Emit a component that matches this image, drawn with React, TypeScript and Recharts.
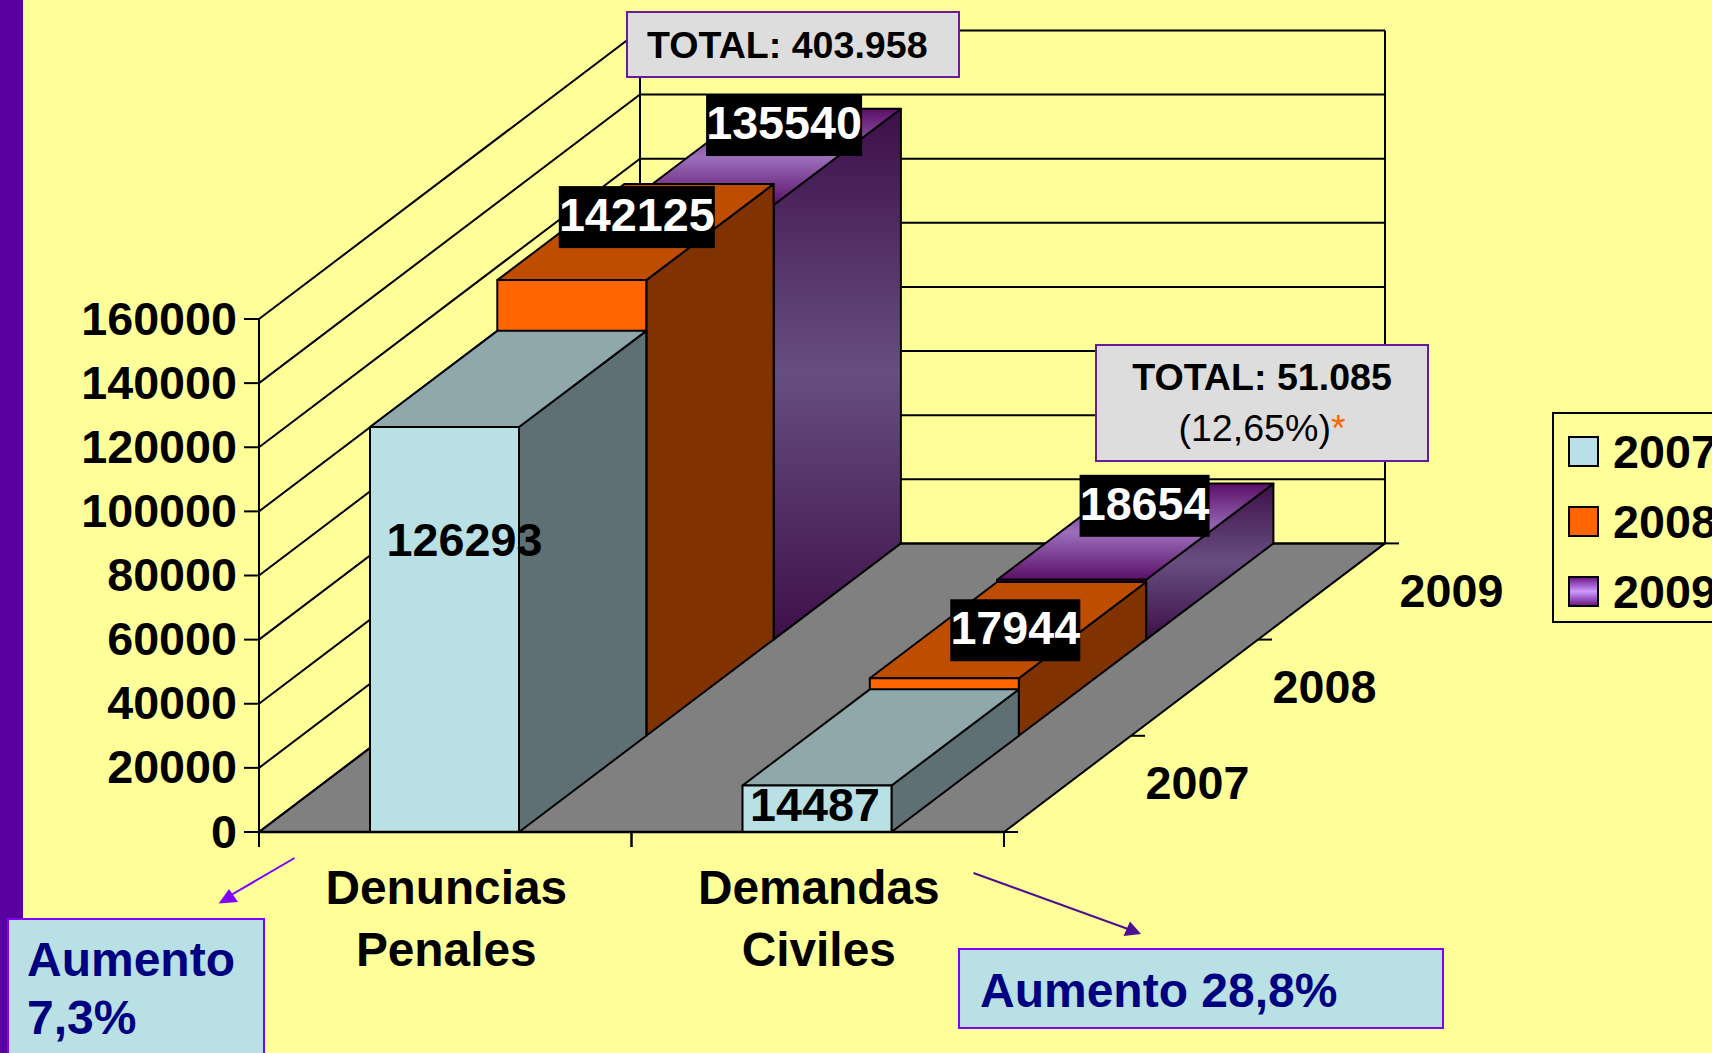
import { Bar, BarChart, CartesianGrid, LabelList, Legend, XAxis, YAxis } from "recharts";

const categories = ["Denuncias Penales", "Demandas Civiles"];
const years = ["2007", "2008", "2009"];
const values2007 = [126293, 14487];
const values2008 = [142125, 17944];
const values2009 = [135540, 18654];
const yTicks = [0, 20000, 40000, 60000, 80000, 100000, 120000, 140000, 160000];

const rows = categories.map((name, i) => ({
    name,
    y2007: values2007[i],
    y2008: values2008[i],
    y2009: values2009[i],
}));

// chart frame
const W = 1712;
const H = 1053;
const PLOT_LEFT = 259;
const PLOT_RIGHT = 1004;
const PLOT_TOP = 319;
const PLOT_BOTTOM = 832;
const BAND = (PLOT_RIGHT - PLOT_LEFT) / categories.length;

// fake perspective: how far one row moves back
const STEP_X = 127;
const STEP_Y = 96.2;
const BOX_STEP_X = 127.3;
const BOX_SHIFT = -1;
const ROWS = years.length;

const BAR_W = 149;
const LINE = "#000";
const LINE_W = 2;
const FONT = "'Liberation Sans', Arial, sans-serif";

const faces: Record<string, { front: string; top: string; side: string }> = {
    "2007": { front: "#B9E0E4", top: "#8FA8AB", side: "#5E7073" },
    "2008": { front: "#FF6600", top: "#BF4D00", side: "#803300" },
    "2009": { front: "url(#front2009)", top: "url(#top2009)", side: "url(#side2009)" },
};

// label spot relative to the top middle of the front face, per category
const labelNudge: Record<string, [number, number][]> = {
    "2007": [[20, 112], [-2, 19]],
    "2008": [[65, -63], [71, -48]],
    "2009": [[85, -80], [73, -74]],
};

function box3d(year: string, row: number) {
    return function Box(props: any) {
        const { x, y, width, height } = props;
        const f = faces[year];
        const fx = x + BOX_SHIFT + row * BOX_STEP_X;
        const fy = y - row * STEP_Y;
        const pts = (a: number[][]) => a.map((p) => p.join(",")).join(" ");
        return (
            <g stroke={LINE} strokeWidth={LINE_W} strokeLinejoin="round">
                <polygon
                    fill={f.side}
                    points={pts([
                        [fx + width, fy],
                        [fx + width + BOX_STEP_X, fy - STEP_Y],
                        [fx + width + BOX_STEP_X, fy + height - STEP_Y],
                        [fx + width, fy + height],
                    ])}
                />
                <polygon
                    fill={f.top}
                    points={pts([
                        [fx, fy],
                        [fx + width, fy],
                        [fx + width + BOX_STEP_X, fy - STEP_Y],
                        [fx + BOX_STEP_X, fy - STEP_Y],
                    ])}
                />
                <rect x={fx} y={fy} width={width} height={height} fill={f.front} />
            </g>
        );
    };
}

function valueLabel(year: string, row: number) {
    return function ValueLabel(props: any) {
        const box = props.viewBox ?? props;
        const [nx, ny] = labelNudge[year][props.index];
        const cx = box.x + box.width / 2 + BOX_SHIFT + row * BOX_STEP_X + nx;
        const cy = box.y - row * STEP_Y + ny;
        const boxed = year !== "2007";
        const boxW = String(props.value).length * 26;
        return (
            <g>
                {boxed && <rect x={cx - boxW / 2} y={cy - 31} width={boxW} height={62} fill="#000" />}
                <text
                    x={cx}
                    y={cy + (boxed ? 14 : 16.5)}
                    textAnchor="middle"
                    fontFamily={FONT}
                    fontWeight={700}
                    fontSize={46.7}
                    fill={boxed ? "#fff" : "#000"}
                >
                    {props.value}
                </text>
            </g>
        );
    };
}

// side wall + back wall for every y tick; the floor comes with the zero line
function wallLine(props: any) {
    const y = props.y1;
    const depthX = STEP_X * ROWS;
    const depthY = STEP_Y * ROWS;
    const isZero = Math.abs(y - PLOT_BOTTOM) < 1;
    return (
        <g key={`wall-${y}`}>
            {isZero && (
                <g>
                    <polygon
                        fill="#808080"
                        stroke={LINE}
                        strokeWidth={LINE_W}
                        points={`${PLOT_LEFT},${y} ${PLOT_RIGHT},${y} ${PLOT_RIGHT + depthX},${y - depthY} ${PLOT_LEFT + depthX},${y - depthY}`}
                    />
                    <line
                        x1={PLOT_LEFT + depthX}
                        x2={PLOT_LEFT + depthX}
                        y1={y - depthY}
                        y2={PLOT_TOP - depthY}
                        stroke={LINE}
                        strokeWidth={LINE_W}
                    />
                    <line
                        x1={PLOT_RIGHT + depthX}
                        x2={PLOT_RIGHT + depthX}
                        y1={y - depthY}
                        y2={PLOT_TOP - depthY}
                        stroke={LINE}
                        strokeWidth={LINE_W}
                    />
                    {[0, 1, 2, 3].map((k) => (
                        <line
                            key={k}
                            x1={PLOT_RIGHT + k * STEP_X}
                            x2={PLOT_RIGHT + k * STEP_X + 14}
                            y1={y - k * STEP_Y}
                            y2={y - k * STEP_Y}
                            stroke={LINE}
                            strokeWidth={LINE_W}
                        />
                    ))}
                    {years.map((year, k) => (
                        <text
                            key={year}
                            x={PLOT_RIGHT + (k + 0.5) * STEP_X + 130}
                            y={y - (k + 0.5) * STEP_Y + 15}
                            textAnchor="middle"
                            fontFamily={FONT}
                            fontWeight={700}
                            fontSize={46.7}
                            fill="#000"
                        >
                            {year}
                        </text>
                    ))}
                </g>
            )}
            <polyline
                fill="none"
                stroke={LINE}
                strokeWidth={LINE_W}
                points={`${PLOT_LEFT},${y} ${PLOT_LEFT + depthX},${y - depthY} ${PLOT_RIGHT + depthX},${y - depthY}`}
            />
        </g>
    );
}

function CategoryTick(props: any) {
    const { x, payload } = props;
    const words = String(payload.value).split(" ");
    return (
        <g>
            <line x1={x - BAND / 2} x2={x - BAND / 2} y1={PLOT_BOTTOM} y2={PLOT_BOTTOM + 15} stroke={LINE} strokeWidth={LINE_W} />
            <line x1={x + BAND / 2} x2={x + BAND / 2} y1={PLOT_BOTTOM} y2={PLOT_BOTTOM + 15} stroke={LINE} strokeWidth={LINE_W} />
            {words.map((word, i) => (
                <text
                    key={word}
                    x={x + 1}
                    y={904 + i * 62}
                    textAnchor="middle"
                    fontFamily={FONT}
                    fontWeight={700}
                    fontSize={47.8}
                    fill="#000"
                >
                    {word}
                </text>
            ))}
        </g>
    );
}

function LegendBox(props: any) {
    const items = [...(props.payload ?? [])].sort((a, b) => String(a.value).localeCompare(String(b.value)));
    return (
        <div style={{ position: "relative", width: 200, height: 211, border: "2px solid #000", boxSizing: "border-box" }}>
            {items.map((item, i) => (
                <div key={item.value}>
                    <div
                        style={{
                            position: "absolute",
                            left: 14,
                            top: 22 + i * 70,
                            width: 31,
                            height: 31,
                            boxSizing: "border-box",
                            border: "2px solid #000",
                            background:
                                item.value === "2009"
                                    ? "linear-gradient(#701A8A, #CC99FF 50%, #701A8A)"
                                    : faces[item.value].front,
                        }}
                    />
                    <div
                        style={{
                            position: "absolute",
                            left: 59,
                            top: 12 + i * 70,
                            fontFamily: FONT,
                            fontWeight: 700,
                            fontSize: 46.7,
                            lineHeight: "53px",
                            color: "#000",
                        }}
                    >
                        {item.value}
                    </div>
                </div>
            ))}
        </div>
    );
}

function note(style: React.CSSProperties): React.CSSProperties {
    return { position: "absolute", boxSizing: "border-box", fontFamily: FONT, ...style };
}

export default function App() {
    return (
        <div
            style={{
                position: "absolute",
                left: 0,
                top: 0,
                width: W,
                height: H,
                overflow: "hidden",
                background: "#FFFF99",
            }}
        >
            <div style={{ position: "absolute", left: 0, top: 0, width: 23, height: H, background: "#5B00A0" }} />

            <div style={{ position: "absolute", left: 0, top: 0 }}>
                <BarChart
                    width={W}
                    height={H}
                    data={rows}
                    margin={{ top: PLOT_TOP, right: W - PLOT_RIGHT, bottom: 0, left: 0 }}
                    barSize={BAR_W}
                    barGap={-BAR_W}
                >
                    <defs>
                        <linearGradient id="front2009" x1="0" y1="0" x2="0" y2="1">
                            <stop offset="0%" stopColor="#701A8A" />
                            <stop offset="50%" stopColor="#CC99FF" />
                            <stop offset="100%" stopColor="#701A8A" />
                        </linearGradient>
                        <linearGradient id="top2009" x1="0" y1="0" x2="0" y2="1">
                            <stop offset="0%" stopColor="#5B1068" />
                            <stop offset="50%" stopColor="#9C70BC" />
                            <stop offset="100%" stopColor="#5B1068" />
                        </linearGradient>
                        <linearGradient id="side2009" x1="0" y1="0" x2="0" y2="1">
                            <stop offset="0%" stopColor="#3E0F4A" />
                            <stop offset="50%" stopColor="#674E80" />
                            <stop offset="100%" stopColor="#3E0F4A" />
                        </linearGradient>
                    </defs>
                    <CartesianGrid vertical={false} horizontal={wallLine} />
                    <XAxis
                        dataKey="name"
                        height={H - PLOT_BOTTOM}
                        interval={0}
                        tickLine={false}
                        tick={CategoryTick}
                        axisLine={{ stroke: LINE, strokeWidth: 2.5 }}
                    />
                    <YAxis
                        width={PLOT_LEFT}
                        domain={[0, 160000]}
                        ticks={yTicks}
                        interval={0}
                        tickSize={15}
                        tickMargin={7}
                        tickLine={{ stroke: LINE, strokeWidth: LINE_W }}
                        axisLine={{ stroke: LINE, strokeWidth: LINE_W }}
                        tick={{ fill: "#000", fontSize: 46.7, fontWeight: 700, fontFamily: FONT, dy: -1 }}
                    />
                    <Bar dataKey="y2009" name="2009" fill="#CC99FF" shape={box3d("2009", 2)} isAnimationActive={false}>
                        <LabelList dataKey="y2009" content={valueLabel("2009", 2)} />
                    </Bar>
                    <Bar dataKey="y2008" name="2008" fill="#FF6600" shape={box3d("2008", 1)} isAnimationActive={false}>
                        <LabelList dataKey="y2008" content={valueLabel("2008", 1)} />
                    </Bar>
                    <Bar dataKey="y2007" name="2007" fill="#B9E0E4" shape={box3d("2007", 0)} isAnimationActive={false}>
                        <LabelList dataKey="y2007" content={valueLabel("2007", 0)} />
                    </Bar>
                    <Legend
                        layout="horizontal"
                        align="center"
                        verticalAlign="middle"
                        content={LegendBox}
                        wrapperStyle={{ left: 1552, top: 412, width: 200, height: 211, bottom: "auto", right: "auto" }}
                    />
                </BarChart>
            </div>

            {/* arrows */}
            <svg width={W} height={H} style={{ position: "absolute", left: 0, top: 0, pointerEvents: "none" }}>
                <line x1={294.6} y1={858} x2={226} y2={898} stroke="#8000FF" strokeWidth={2} />
                <polygon points="218.7,903.5 229,889 238,902" fill="#8000FF" />
                <line x1={973.5} y1={873} x2={1128} y2={929} stroke="#4F0F91" strokeWidth={2} />
                <polygon points="1141,934 1123.5,936 1130,921.5" fill="#4F0F91" />
            </svg>

            {/* callouts */}
            <div
                style={note({
                    left: 626,
                    top: 11,
                    width: 334,
                    height: 67,
                    background: "#DDDDDD",
                    border: "2.5px solid #6A1B9A",
                    fontSize: 37.6,
                    fontWeight: 700,
                    color: "#000",
                    lineHeight: "64px",
                    paddingLeft: 19,
                    whiteSpace: "nowrap",
                })}
            >
                TOTAL: 403.958
            </div>
            <div
                style={note({
                    left: 1095,
                    top: 344,
                    width: 334,
                    height: 118,
                    background: "#DDDDDD",
                    border: "2.5px solid #6A1B9A",
                    color: "#000",
                    textAlign: "center",
                    fontSize: 37.6,
                    lineHeight: "51px",
                    paddingTop: 6,
                })}
            >
                <div style={{ fontWeight: 700 }}>TOTAL: 51.085</div>
                <div>
                    (12,65%)<span style={{ color: "#FF6600" }}>*</span>
                </div>
            </div>
            <div
                style={note({
                    left: 7,
                    top: 918,
                    width: 258,
                    height: 150,
                    background: "#B9E0E4",
                    border: "2.5px solid #8000FF",
                    color: "#000080",
                    fontSize: 48,
                    fontWeight: 700,
                    lineHeight: "58px",
                    padding: "11px 0 0 18px",
                })}
            >
                Aumento
                <br />
                7,3%
            </div>
            <div
                style={note({
                    left: 958,
                    top: 948,
                    width: 486,
                    height: 81,
                    background: "#B9E0E4",
                    border: "2.5px solid #8000FF",
                    color: "#000080",
                    fontSize: 48,
                    fontWeight: 700,
                    lineHeight: "81px",
                    paddingLeft: 20,
                })}
            >
                Aumento 28,8%
            </div>
        </div>
    );
}
